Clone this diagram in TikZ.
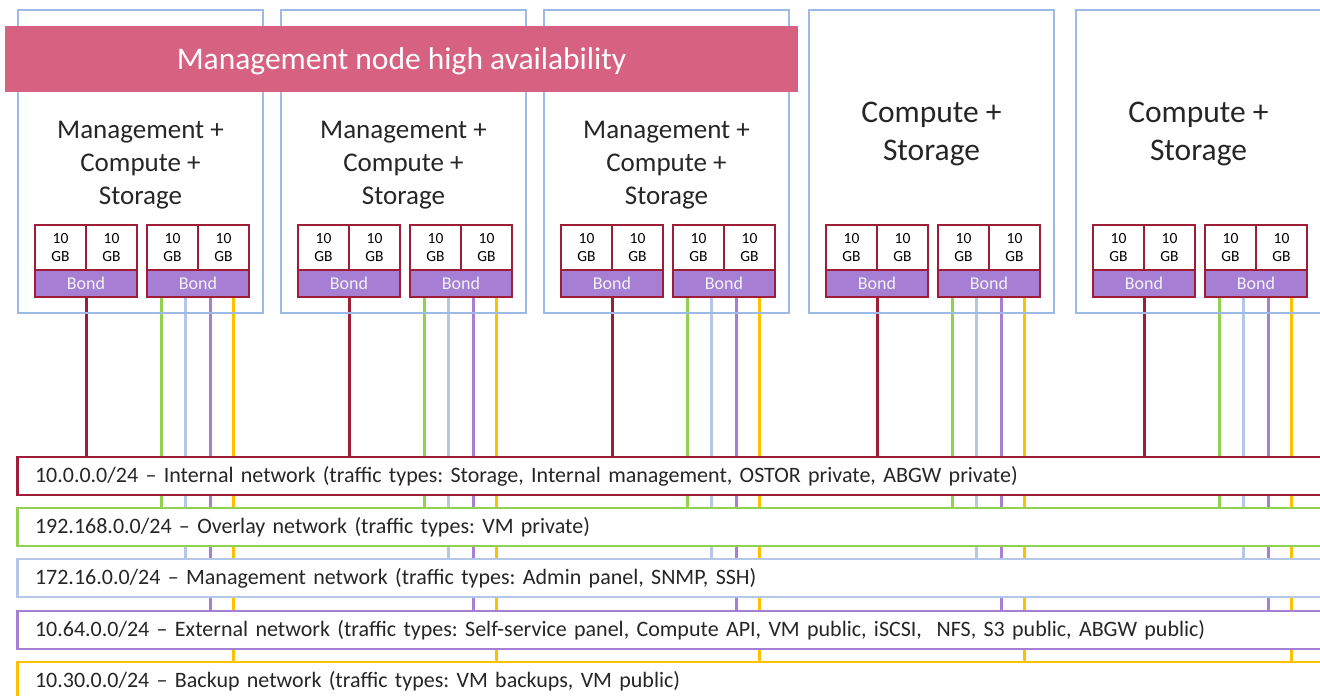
\documentclass[tikz,border=0pt]{standalone}
\usepackage{fontspec}
\setmainfont{Carlito}
\usetikzlibrary{positioning}
\definecolor{boxblue}{RGB}{157,185,230}
\definecolor{hapink}{RGB}{215,97,129}
\definecolor{nicred}{RGB}{158,30,56}
\definecolor{bondpurple}{RGB}{166,127,212}
\definecolor{netgreen}{RGB}{146,208,80}
\definecolor{netblue}{RGB}{180,199,231}
\definecolor{netorange}{RGB}{255,192,0}
\definecolor{txtgray}{RGB}{38,38,38}
\pgfdeclarelayer{background}
\pgfsetlayers{background,main}
\frenchspacing

\begin{document}
\begin{tikzpicture}[x=1pt,y=-1pt,
    server/.style={draw=boxblue,line width=2.5pt,minimum width=245pt,minimum height=303pt,inner sep=0pt},
    port/.style={draw=nicred,fill=white,line width=2.5pt,outer sep=0pt,minimum width=51pt,minimum height=45pt,inner sep=0pt,align=center,font=\fontsize{15.5}{18.5}\selectfont,text=black},
    bond/.style={draw=nicred,fill=bondpurple,line width=2.5pt,outer sep=0pt,minimum width=102pt,minimum height=27pt,inner sep=0pt,font=\fontsize{18}{20}\selectfont,text=white!95!black},
    mgmtlbl/.style={align=center,font=\fontsize{27}{33}\selectfont,text=txtgray},
    complbl/.style={align=center,font=\fontsize{31.5}{38.5}\selectfont,text=txtgray},
    net/.style={draw=#1,fill=white,line width=2.5pt,outer sep=0pt,anchor=west,minimum height=38pt,text width=1300pt,inner xsep=17.3pt,inner ysep=0pt,align=left,font=\fontsize{22}{26}\selectfont,text=txtgray},
    link/.style={draw=#1,line width=3pt}]
    \useasboundingbox (0,0) rectangle (1320,696);
    \clip (0,0) rectangle (1320,696);
    \foreach \i/\sx in {1/18,2/281,3/544,4/809,5/1076} {
        \node [server] (s\i) at (\sx+122.5,161.5) {};
        \node [port] (p\i a) at (\sx+42.5,247.5) {10\\GB};
        \node [port,right=0pt of p\i a] (p\i b) {10\\GB};
        \node [port] (p\i c) at (\sx+154.5,247.5) {10\\GB};
        \node [port,right=0pt of p\i c] (p\i d) {10\\GB};
        \node [bond,below=0pt of p\i a.south east] (b\i l) {Bond};
        \node [bond,below=0pt of p\i c.south east] (b\i r) {Bond};
    }
    \node [fill=hapink,minimum width=793pt,minimum height=66pt,inner sep=0pt,text height=20pt,text depth=0pt,text=white,
    font=\fontsize{31.5}{36}\selectfont] (ha) at (401.5,59) {Management node high availability};
    \node [mgmtlbl] (l1) at (140.5,165) {Management +\\Compute +\\Storage};
    \node [mgmtlbl] (l2) at (403.5,165) {Management +\\Compute +\\Storage};
    \node [mgmtlbl] (l3) at (666.5,165) {Management +\\Compute +\\Storage};
    \node [complbl] (l4) at (931.5,134) {Compute +\\Storage};
    \node [complbl] (l5) at (1198.5,134) {Compute +\\Storage};
    \node [net=nicred] (inet) at (17.7,476) {10.0.0.0/24 – Internal network (traffic types: Storage, Internal management, OSTOR private, ABGW private)};
    \node [net=netgreen] (onet) at (17.7,527) {192.168.0.0/24 – Overlay network (traffic types: VM private)};
    \node [net=netblue] (mnet) at (17.7,578) {172.16.0.0/24 – Management network (traffic types: Admin panel, SNMP, SSH)};
    \node [net=bondpurple] (enet) at (17.7,630) {10.64.0.0/24 – External network (traffic types: Self-service panel, Compute API, VM public, iSCSI,\ \ NFS, S3 public, ABGW public)};
    \node [net=netorange] (bnet) at (17.7,681) {10.30.0.0/24 – Backup network (traffic types: VM backups, VM public)};
    \begin{pgfonlayer}{background}
        \foreach \i in {1,...,5} {
            \draw [link=nicred] (b\i l.south) -- (b\i l.south |- inet.north);
            \draw [link=netgreen] ([xshift=-37pt]b\i r.south) -- ([xshift=-37pt]b\i r.south |- onet.north);
            \draw [link=netblue] ([xshift=-13pt]b\i r.south) -- ([xshift=-13pt]b\i r.south |- mnet.north);
            \draw [link=bondpurple] ([xshift=12pt]b\i r.south) -- ([xshift=12pt]b\i r.south |- enet.north);
            \draw [link=netorange] ([xshift=35pt]b\i r.south) -- ([xshift=35pt]b\i r.south |- bnet.north);
        }
    \end{pgfonlayer}
\end{tikzpicture}
\end{document}
